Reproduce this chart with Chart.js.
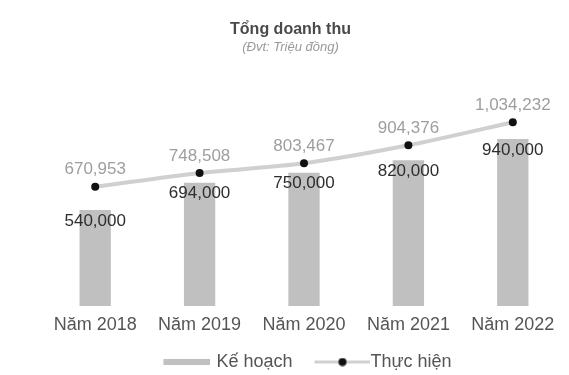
<!DOCTYPE html>
<html>
<head>
<meta charset="utf-8">
<script src="https://cdn.jsdelivr.net/npm/chart.js@4"></script>
<style>
  html, body { margin: 0; padding: 0; background: #fff; }
  #wrap { width: 569px; height: 375px; }
</style>
</head>
<body>
<div id="wrap"><canvas id="chart"></canvas></div>
<script>
const years = ['Năm 2018', 'Năm 2019', 'Năm 2020', 'Năm 2021', 'Năm 2022'];
const keHoach = [540000, 694000, 750000, 820000, 940000];
const thucHien = [670953, 748508, 803467, 904376, 1034232];

const FONT = '"Liberation Sans", Arial, sans-serif';
const fmt = v => v.toLocaleString('en-US');

// legend markers: grey block for bars, line with a dot for the line series
function barMarker() {
  const c = document.createElement('canvas');
  c.width = 57; c.height = 6;
  const g = c.getContext('2d');
  g.fillStyle = '#c0c0c0';
  g.fillRect(10, 0, 47, 6);
  return c;
}
function lineMarker() {
  const c = document.createElement('canvas');
  c.width = 69; c.height = 9;
  const g = c.getContext('2d');
  g.fillStyle = '#d0d0d0';
  g.fillRect(13, 3, 56, 3);
  g.fillStyle = '#111';
  g.beginPath();
  g.arc(41, 4.5, 4, 0, Math.PI * 2);
  g.fill();
  return c;
}
const markers = { bar: barMarker(), line: lineMarker() };

// value labels above points and at the top of the bars
const valueLabels = {
  id: 'valueLabels',
  afterDatasetsDraw(chart) {
    const ctx = chart.ctx;
    ctx.save();
    ctx.textAlign = 'center';
    ctx.textBaseline = 'middle';
    ctx.font = '17px ' + FONT;
    chart.data.datasets.forEach((ds, i) => {
      chart.getDatasetMeta(i).data.forEach((el, j) => {
        if (ds.type === 'line') {
          ctx.fillStyle = '#9e9e9e';
          ctx.fillText(fmt(ds.data[j]), el.x, el.y - 17);
        } else {
          ctx.fillStyle = '#2e2e2e';
          ctx.fillText(fmt(ds.data[j]), el.x, el.y + 11);
        }
      });
    });
    ctx.restore();
  }
};

new Chart(document.getElementById('chart'), {
  data: {
    labels: years,
    datasets: [
      {
        type: 'line',
        label: 'Thực hiện',
        data: thucHien,
        borderColor: '#d0d0d0',
        borderWidth: 4,
        tension: 0.3,
        pointRadius: 4,
        pointBorderWidth: 0,
        pointBackgroundColor: '#111',
        order: 0
      },
      {
        type: 'bar',
        label: 'Kế hoạch',
        data: keHoach,
        backgroundColor: '#c0c0c0',
        categoryPercentage: 1,
        barPercentage: 0.3,
        order: 1
      }
    ]
  },
  options: {
    responsive: true,
    maintainAspectRatio: false,
    animation: false,
    layout: { padding: { top: 10, left: 12, right: 0, bottom: -6 } },
    scales: {
      x: {
        grid: { display: false, drawTicks: false },
        border: { display: false },
        ticks: { color: '#555', font: { family: FONT, size: 18 }, padding: 8 },
        afterFit(scale) { scale.height = 29; }
      },
      y: {
        min: 0,
        max: 1200000,
        grid: { display: false, drawTicks: false },
        border: { display: false },
        ticks: { display: false },
        afterFit(scale) { scale.width = 31; }
      }
    },
    plugins: {
      title: {
        display: true,
        text: 'Tổng doanh thu',
        color: '#4a4a4a',
        font: { family: FONT, size: 16, weight: 'bold' },
        padding: { top: 10, bottom: 0 }
      },
      subtitle: {
        display: true,
        text: '(Đvt: Triệu đồng)',
        color: '#999',
        font: { family: FONT, size: 13, style: 'italic' },
        padding: { top: 0, bottom: 38 }
      },
      legend: {
        position: 'bottom',
        fullSize: false,
        labels: {
          usePointStyle: true,
          pointStyleWidth: 51,
          color: '#555',
          font: { family: FONT, size: 18, lineHeight: 1 },
          padding: 18,
          generateLabels(chart) {
            // bar series first, then the line
            return chart.data.datasets.map((ds, i) => ({
              text: ds.label,
              pointStyle: markers[ds.type],
              fontColor: '#555',
              lineWidth: 0,
              datasetIndex: i,
              hidden: false
            })).reverse();
          }
        }
      },
      tooltip: { enabled: false }
    }
  },
  plugins: [valueLabels]
});
</script>
</body>
</html>
